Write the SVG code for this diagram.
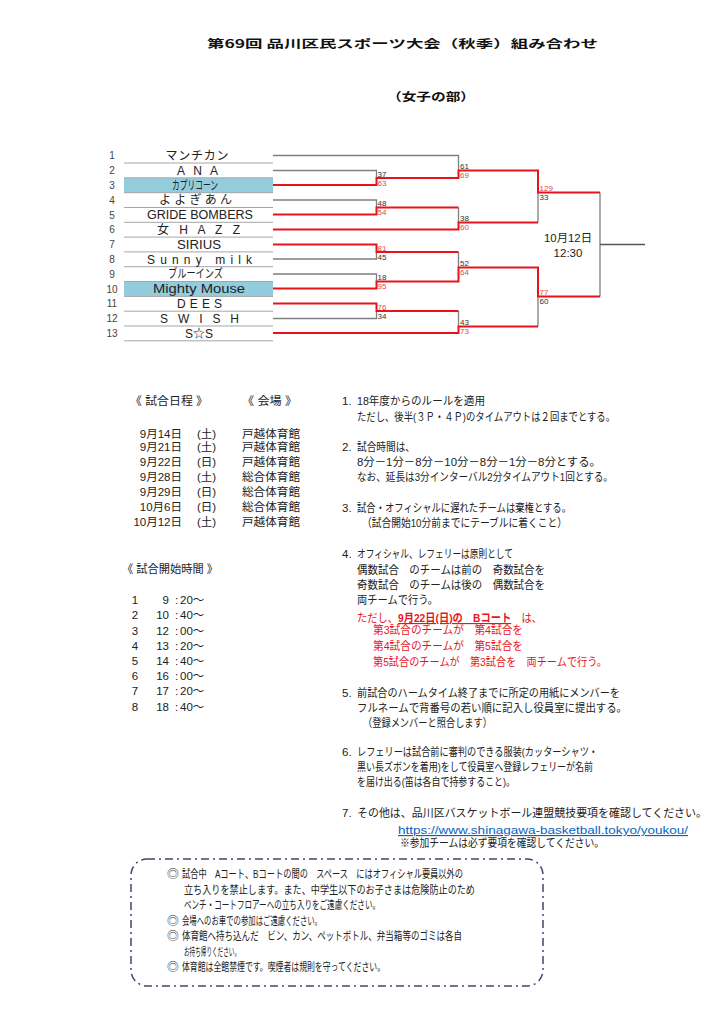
<svg xmlns="http://www.w3.org/2000/svg" width="724" height="1024" viewBox="0 0 724 1024">
<style>
text{font-family:"Liberation Sans","Noto Sans CJK JP",sans-serif;fill:#222;font-size:11.5px}
.h{font-family:"Noto Sans CJK JP",sans-serif;font-weight:700;fill:#111}
.num{font-size:10px;fill:#444;text-anchor:middle}
.nm{font-size:12px;text-anchor:middle}
.hl{fill:#93CDDD}
.ul{stroke:#a6a6a6;stroke-width:1}
.gl{stroke:#7f7f7f;stroke-width:1.3;fill:none}
.rl{stroke:#E8141C;stroke-width:2;fill:none}
.sc{font-size:8px;fill:#333}
.sr{font-size:8px;fill:#E5474C}
.red{fill:#E8141C}
.mid{text-anchor:middle}
.end{text-anchor:end}
.bx{font-size:11.8px}
</style>
<rect width="724" height="1024" fill="#fff"/>

<g id="title">
<text class="h" x="207" y="47.5" font-size="17" textLength="391" lengthAdjust="spacingAndGlyphs">第69回 品川区民スポーツ大会（秋季）組み合わせ</text>
<text class="h" x="387" y="100.5" font-size="14" textLength="88" lengthAdjust="spacingAndGlyphs">（女子の部）</text>
</g>

<g id="teams">
<rect class="hl" x="124" y="178" width="149" height="14.8"/>
<rect class="hl" x="124" y="281.6" width="149" height="14.8"/>
<g class="ul">
<line x1="124" y1="163" x2="273" y2="163"/>
<line x1="124" y1="177.8" x2="273" y2="177.8"/>
<line x1="124" y1="192.7" x2="273" y2="192.7"/>
<line x1="124" y1="207.5" x2="273" y2="207.5"/>
<line x1="124" y1="222.3" x2="273" y2="222.3"/>
<line x1="124" y1="237.1" x2="273" y2="237.1"/>
<line x1="124" y1="251.9" x2="273" y2="251.9"/>
<line x1="124" y1="266.7" x2="273" y2="266.7"/>
<line x1="124" y1="281.5" x2="273" y2="281.5"/>
<line x1="124" y1="296.4" x2="273" y2="296.4"/>
<line x1="124" y1="311.2" x2="273" y2="311.2"/>
<line x1="124" y1="326" x2="273" y2="326"/>
<line x1="124" y1="340.8" x2="273" y2="340.8"/>
</g>
<g id="team1"><text class="num" x="112" y="159">1</text><text class="nm" x="197" y="159.5" textLength="63" lengthAdjust="spacing">マンチカン</text></g>
<g id="team2"><text class="num" x="112" y="174">2</text><text class="nm" x="197.5" y="174.5" textLength="41" lengthAdjust="spacing">A N A</text></g>
<g id="team3"><text class="num" x="112" y="189">3</text><text class="nm" x="195" y="189.5" textLength="46" lengthAdjust="spacingAndGlyphs">カプリコーン</text></g>
<g id="team4"><text class="num" x="112" y="203.5">4</text><text class="nm" x="195.5" y="204" textLength="73" lengthAdjust="spacing">よよぎあん</text></g>
<g id="team5"><text class="num" x="112" y="218.5">5</text><text class="nm" x="200" y="219" textLength="106" lengthAdjust="spacingAndGlyphs">GRIDE BOMBERS</text></g>
<g id="team6"><text class="num" x="112" y="233">6</text><text class="nm" x="198.5" y="233.5" textLength="83" lengthAdjust="spacing">女 H A Z Z</text></g>
<g id="team7"><text class="num" x="112" y="248">7</text><text class="nm" x="199" y="248.5" textLength="44" lengthAdjust="spacingAndGlyphs">SIRIUS</text></g>
<g id="team8"><text class="num" x="112" y="263">8</text><text class="nm" x="199.5" y="263.5" textLength="105" lengthAdjust="spacing">Sunny milk</text></g>
<g id="team9"><text class="num" x="112" y="277.5">9</text><text class="nm" x="195.5" y="278" textLength="55" lengthAdjust="spacingAndGlyphs">ブルーインズ</text></g>
<g id="team10"><text class="num" x="112" y="292.5">10</text><text class="nm" x="199" y="293" textLength="92" lengthAdjust="spacingAndGlyphs">Mighty  Mouse</text></g>
<g id="team11"><text class="num" x="112" y="307">11</text><text class="nm" x="199.5" y="307.5" textLength="45" lengthAdjust="spacing">D E E S</text></g>
<g id="team12"><text class="num" x="112" y="322">12</text><text class="nm" x="199.5" y="322.5" textLength="79" lengthAdjust="spacing">S W I S H</text></g>
<g id="team13"><text class="num" x="112" y="337">13</text><text class="nm" x="199" y="337.5" textLength="28" lengthAdjust="spacingAndGlyphs">S☆S</text></g>
</g>

<g id="connectors">
<path class="gl" d="M273,155.5H458.5V170.5"/>
<path class="gl" d="M273,170.5H376.5V178"/>
<path class="gl" d="M273,200H376.5V207.5"/>
<path class="gl" d="M273,259H376.5V252"/>
<path class="gl" d="M273,274H376.5V281.5"/>
<path class="gl" d="M273,318.5H376.5V311"/>
<path class="gl" d="M458.5,207.5V222.5"/>
<path class="gl" d="M458.5,252V267.5"/>
<path class="gl" d="M458.5,311V326.5"/>
<path class="gl" d="M538,192.5V222.5"/>
<path class="gl" d="M538,296.5V326.5"/>
<path class="gl" d="M600,192.5V296.5"/>
<path d="M600,244.5H645" stroke="#555" stroke-width="1.3" fill="none"/>
<path class="rl" d="M273,185H376.5V178H458.5V170.5H538V192.5H600"/>
<path class="rl" d="M273,214.5H376.5V207.5H458.5"/>
<path class="rl" d="M273,229.5H458.5V222.5H538"/>
<path class="rl" d="M273,244.5H376.5V252H458.5"/>
<path class="rl" d="M273,288.5H376.5V281.5H458.5V267.5H538V296.5H600"/>
<path class="rl" d="M273,303.5H376.5V311H458.5"/>
<path class="rl" d="M273,333H458.5V326.5H538"/>
</g>

<g id="scores">
<text class="sc" x="377.5" y="176.8">37</text><text class="sr" x="377.5" y="185.8">63</text>
<text class="sc" x="377.5" y="206.3">48</text><text class="sr" x="377.5" y="215.3">54</text>
<text class="sr" x="377.5" y="250.8">81</text><text class="sc" x="377.5" y="259.8">45</text>
<text class="sc" x="377.5" y="280.3">18</text><text class="sr" x="377.5" y="289.3">95</text>
<text class="sr" x="377.5" y="309.8">76</text><text class="sc" x="377.5" y="318.8">34</text>
<text class="sc" x="460" y="169.3">61</text><text class="sr" x="460" y="178.3">69</text>
<text class="sc" x="460" y="221.3">38</text><text class="sr" x="460" y="230.3">60</text>
<text class="sc" x="460" y="266.3">52</text><text class="sr" x="460" y="275.3">64</text>
<text class="sc" x="460" y="325.3">43</text><text class="sr" x="460" y="334.3">73</text>
<text class="sr" x="539.5" y="191.3">129</text><text class="sc" x="539.5" y="200.3">33</text>
<text class="sr" x="539.5" y="295.3">77</text><text class="sc" x="539.5" y="304.3">60</text>
</g>

<g id="final">
<text class="mid" x="568" y="242" font-size="12" textLength="48" lengthAdjust="spacingAndGlyphs">10月12日</text>
<text class="mid" x="568" y="257" font-size="12">12:30</text>
</g>

<g id="schedule">
<text x="130" y="405" textLength="78" lengthAdjust="spacingAndGlyphs">《 試合日程 》</text>
<text x="242" y="405" textLength="55" lengthAdjust="spacingAndGlyphs">《 会場 》</text>
<text class="end" x="182" y="437.5">9月14日</text><text x="197" y="437.5">(土)</text><text x="242" y="437.5" textLength="58" lengthAdjust="spacingAndGlyphs">戸越体育館</text>
<text class="end" x="182" y="451">9月21日</text><text x="197" y="451">(土)</text><text x="242" y="451" textLength="58" lengthAdjust="spacingAndGlyphs">戸越体育館</text>
<text class="end" x="182" y="466">9月22日</text><text x="197" y="466">(日)</text><text x="242" y="466" textLength="58" lengthAdjust="spacingAndGlyphs">戸越体育館</text>
<text class="end" x="182" y="481">9月28日</text><text x="197" y="481">(土)</text><text x="242" y="481" textLength="58" lengthAdjust="spacingAndGlyphs">総合体育館</text>
<text class="end" x="182" y="496">9月29日</text><text x="197" y="496">(日)</text><text x="242" y="496" textLength="58" lengthAdjust="spacingAndGlyphs">総合体育館</text>
<text class="end" x="182" y="511">10月6日</text><text x="197" y="511">(日)</text><text x="242" y="511" textLength="58" lengthAdjust="spacingAndGlyphs">総合体育館</text>
<text class="end" x="182" y="526">10月12日</text><text x="197" y="526">(土)</text><text x="242" y="526" textLength="58" lengthAdjust="spacingAndGlyphs">戸越体育館</text>
</g>

<g id="starttimes">
<text x="122" y="573" textLength="96" lengthAdjust="spacingAndGlyphs">《 試合開始時間 》</text>
<text class="mid" x="135" y="604">1</text><text class="end" x="169" y="604">9</text><text class="mid" x="176.5" y="604">:</text><text x="180" y="604">20～</text>
<text class="mid" x="135" y="619">2</text><text class="end" x="169" y="619">10</text><text class="mid" x="176.5" y="619">:</text><text x="180" y="619">40～</text>
<text class="mid" x="135" y="634.5">3</text><text class="end" x="169" y="634.5">12</text><text class="mid" x="176.5" y="634.5">:</text><text x="180" y="634.5">00～</text>
<text class="mid" x="135" y="649.5">4</text><text class="end" x="169" y="649.5">13</text><text class="mid" x="176.5" y="649.5">:</text><text x="180" y="649.5">20～</text>
<text class="mid" x="135" y="664.5">5</text><text class="end" x="169" y="664.5">14</text><text class="mid" x="176.5" y="664.5">:</text><text x="180" y="664.5">40～</text>
<text class="mid" x="135" y="680">6</text><text class="end" x="169" y="680">16</text><text class="mid" x="176.5" y="680">:</text><text x="180" y="680">00～</text>
<text class="mid" x="135" y="695">7</text><text class="end" x="169" y="695">17</text><text class="mid" x="176.5" y="695">:</text><text x="180" y="695">20～</text>
<text class="mid" x="135" y="710.5">8</text><text class="end" x="169" y="710.5">18</text><text class="mid" x="176.5" y="710.5">:</text><text x="180" y="710.5">40～</text>
</g>

<g id="rules">
<text x="342" y="405">1.</text>
<text x="357" y="405" textLength="128" lengthAdjust="spacingAndGlyphs">18年度からのルールを適用</text>
<text x="357" y="421" textLength="258" lengthAdjust="spacingAndGlyphs">ただし、後半(３Ｐ・４Ｐ)のタイムアウトは２回までとする。</text>
<text x="342" y="451">2.</text>
<text x="357" y="451" textLength="58" lengthAdjust="spacingAndGlyphs">試合時間は、</text>
<text x="357" y="466" textLength="244" lengthAdjust="spacingAndGlyphs">8分－1分－8分－10分－8分－1分－8分とする。</text>
<text x="357" y="481" textLength="256" lengthAdjust="spacingAndGlyphs">なお、延長は3分インターバル2分タイムアウト1回とする。</text>
<text x="342" y="512">3.</text>
<text x="357" y="512" textLength="214" lengthAdjust="spacingAndGlyphs">試合・オフィシャルに遅れたチームは棄権とする。</text>
<text x="362" y="527" textLength="205" lengthAdjust="spacingAndGlyphs">（試合開始10分前までにテーブルに着くこと）</text>
<text x="342" y="558">4.</text>
<text x="357" y="558" textLength="156" lengthAdjust="spacingAndGlyphs">オフィシャル、レフェリーは原則として</text>
<text x="357" y="574" textLength="188" lengthAdjust="spacingAndGlyphs">偶数試合　のチームは前の　奇数試合を</text>
<text x="357" y="589" textLength="188" lengthAdjust="spacingAndGlyphs">奇数試合　のチームは後の　偶数試合を</text>
<text x="357" y="604" textLength="81" lengthAdjust="spacingAndGlyphs">両チームで行う。</text>
<text class="red" x="357" y="622" textLength="185" lengthAdjust="spacingAndGlyphs">ただし、<tspan font-weight="700" text-decoration="underline">9月22日(日)の　Bコート</tspan>　は、</text>
<text class="red" x="373" y="634" textLength="150" lengthAdjust="spacingAndGlyphs">第3試合のチームが　第4試合を</text>
<text class="red" x="373" y="650" textLength="150" lengthAdjust="spacingAndGlyphs">第4試合のチームが　第5試合を</text>
<text class="red" x="373" y="666" textLength="234" lengthAdjust="spacingAndGlyphs">第5試合のチームが　第3試合を　両チームで行う。</text>
<text x="342" y="697">5.</text>
<text x="357" y="697" textLength="263" lengthAdjust="spacingAndGlyphs">前試合のハームタイム終了までに所定の用紙にメンバーを</text>
<text x="357" y="712" textLength="270" lengthAdjust="spacingAndGlyphs">フルネームで背番号の若い順に記入し役員室に提出する。</text>
<text x="363" y="727" textLength="129" lengthAdjust="spacingAndGlyphs">（登録メンバーと照合します）</text>
<text x="342" y="756">6.</text>
<text x="357" y="756" textLength="241" lengthAdjust="spacingAndGlyphs">レフェリーは試合前に審判のできる服装(カッターシャツ・</text>
<text x="357" y="771" textLength="236" lengthAdjust="spacingAndGlyphs">黒い長ズボンを着用)をして役員室へ登録レフェリーが名前</text>
<text x="357" y="786" textLength="158" lengthAdjust="spacingAndGlyphs">を届け出る(笛は各自で持参すること)。</text>
<text x="342" y="817">7.</text>
<text x="357" y="817" textLength="350" lengthAdjust="spacingAndGlyphs">その他は、品川区バスケットボール連盟競技要項を確認してください。</text>
<text x="398" y="834" style="fill:#0563C1" text-decoration="underline" textLength="290" lengthAdjust="spacingAndGlyphs">https://www.shinagawa-basketball.tokyo/youkou/</text>
<text x="400" y="847" textLength="204" lengthAdjust="spacingAndGlyphs">※参加チームは必ず要項を確認してください。</text>
</g>

<g id="notice">
<rect x="131" y="859" width="412" height="127" rx="16" ry="16" fill="none" stroke="#3B4A6B" stroke-width="1.5" stroke-dasharray="8 4 2 4"/>
<text class="bx mid" x="173" y="878">◎</text>
<text class="bx" x="182" y="878" textLength="281" lengthAdjust="spacingAndGlyphs">試合中　Aコート、Bコートの間の　スペース　にはオフィシャル要員以外の</text>
<text class="bx" x="184" y="893.5" textLength="291" lengthAdjust="spacingAndGlyphs">立ち入りを禁止します。また、中学生以下のお子さまは危険防止のため</text>
<text class="bx" x="184" y="909" textLength="196" lengthAdjust="spacingAndGlyphs">ベンチ・コートフロアーへの立ち入りをご遠慮ください。</text>
<text class="bx mid" x="173" y="924.5">◎</text>
<text class="bx" x="182" y="924.5" textLength="140" lengthAdjust="spacingAndGlyphs">会場へのお車での参加はご遠慮ください。</text>
<text class="bx mid" x="173" y="940">◎</text>
<text class="bx" x="182" y="940" textLength="280" lengthAdjust="spacingAndGlyphs">体育館へ持ち込んだ　ビン、カン、ペットボトル、弁当箱等のゴミは各自</text>
<text class="bx" x="184" y="955.5" textLength="56" lengthAdjust="spacingAndGlyphs">お持ち帰りください。</text>
<text class="bx mid" x="173" y="971">◎</text>
<text class="bx" x="182" y="971" textLength="203" lengthAdjust="spacingAndGlyphs">体育館は全館禁煙です。喫煙者は規則を守ってください。</text>
</g>
</svg>
